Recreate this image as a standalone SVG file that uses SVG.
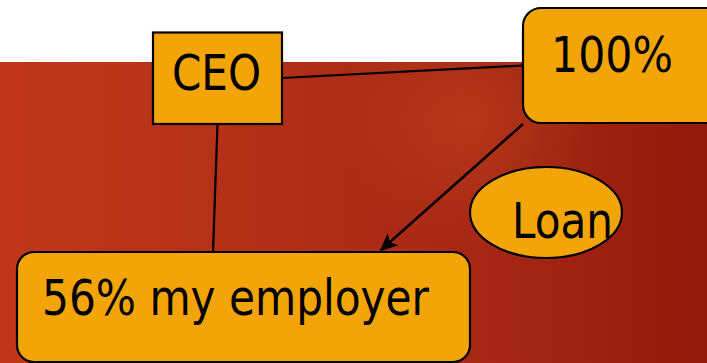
<svg xmlns="http://www.w3.org/2000/svg" width="707" height="363" viewBox="0 0 707 363">
  <defs>
    <linearGradient id="bg2" x1="0" y1="0" x2="1" y2="0">
      <stop offset="0" stop-color="#c03719"/>
      <stop offset="0.4" stop-color="#b12f17"/>
      <stop offset="0.7" stop-color="#a52614"/>
      <stop offset="1" stop-color="#941a0b"/>
    </linearGradient>
    <radialGradient id="glow" cx="470" cy="120" r="130" gradientUnits="userSpaceOnUse">
      <stop offset="0" stop-color="#c0461f" stop-opacity="0.5"/>
      <stop offset="1" stop-color="#c0461f" stop-opacity="0"/>
    </radialGradient>
    <marker id="arrow" viewBox="0 0 10 10" refX="9" refY="5" markerWidth="20" markerHeight="18" markerUnits="userSpaceOnUse" orient="auto">
      <path d="M0,0.5 L10,5 L0,9.5 L2.5,5 z" fill="#000"/>
    </marker>
    <style>
      .node { fill: #f3a507; stroke: #000; stroke-width: 2.2; }
      .lbl { font-family: "DejaVu Sans", sans-serif; font-size: 50px; fill: #000; }
      .conn { stroke: #000; stroke-width: 2.2; fill: none; }
    </style>
  </defs>
  <rect x="0" y="0" width="707" height="363" fill="#ffffff"/>
  <rect x="0" y="62" width="707" height="301" fill="url(#bg2)"/>
  <rect x="0" y="62" width="707" height="301" fill="url(#glow)"/>

  <g id="connectors">
    <line class="conn" x1="282" y1="78" x2="523" y2="65.5"/>
    <line class="conn" x1="217.5" y1="124" x2="213" y2="252"/>
    <line class="conn" x1="523" y1="124" x2="381" y2="250" marker-end="url(#arrow)" style="stroke-width:2.5"/>
  </g>

  <g id="ceo">
    <rect class="node" x="153" y="32.5" width="129" height="91.5"/>
    <text class="lbl" x="172" y="90" textLength="89" lengthAdjust="spacingAndGlyphs">CEO</text>
  </g>
  <g id="pct100">
    <rect class="node" x="523" y="8" width="210" height="115" rx="18" ry="18"/>
    <text class="lbl" x="551" y="72" textLength="122" lengthAdjust="spacingAndGlyphs">100%</text>
  </g>
  <g id="loan">
    <ellipse class="node" cx="546" cy="212.5" rx="76" ry="45.5"/>
    <text class="lbl" x="512" y="238" textLength="101" lengthAdjust="spacingAndGlyphs">Loan</text>
  </g>
  <g id="employer">
    <rect class="node" x="17" y="252" width="453" height="110" rx="17" ry="17"/>
    <text class="lbl" x="42" y="315" textLength="387" lengthAdjust="spacingAndGlyphs">56% my employer</text>
  </g>
</svg>
